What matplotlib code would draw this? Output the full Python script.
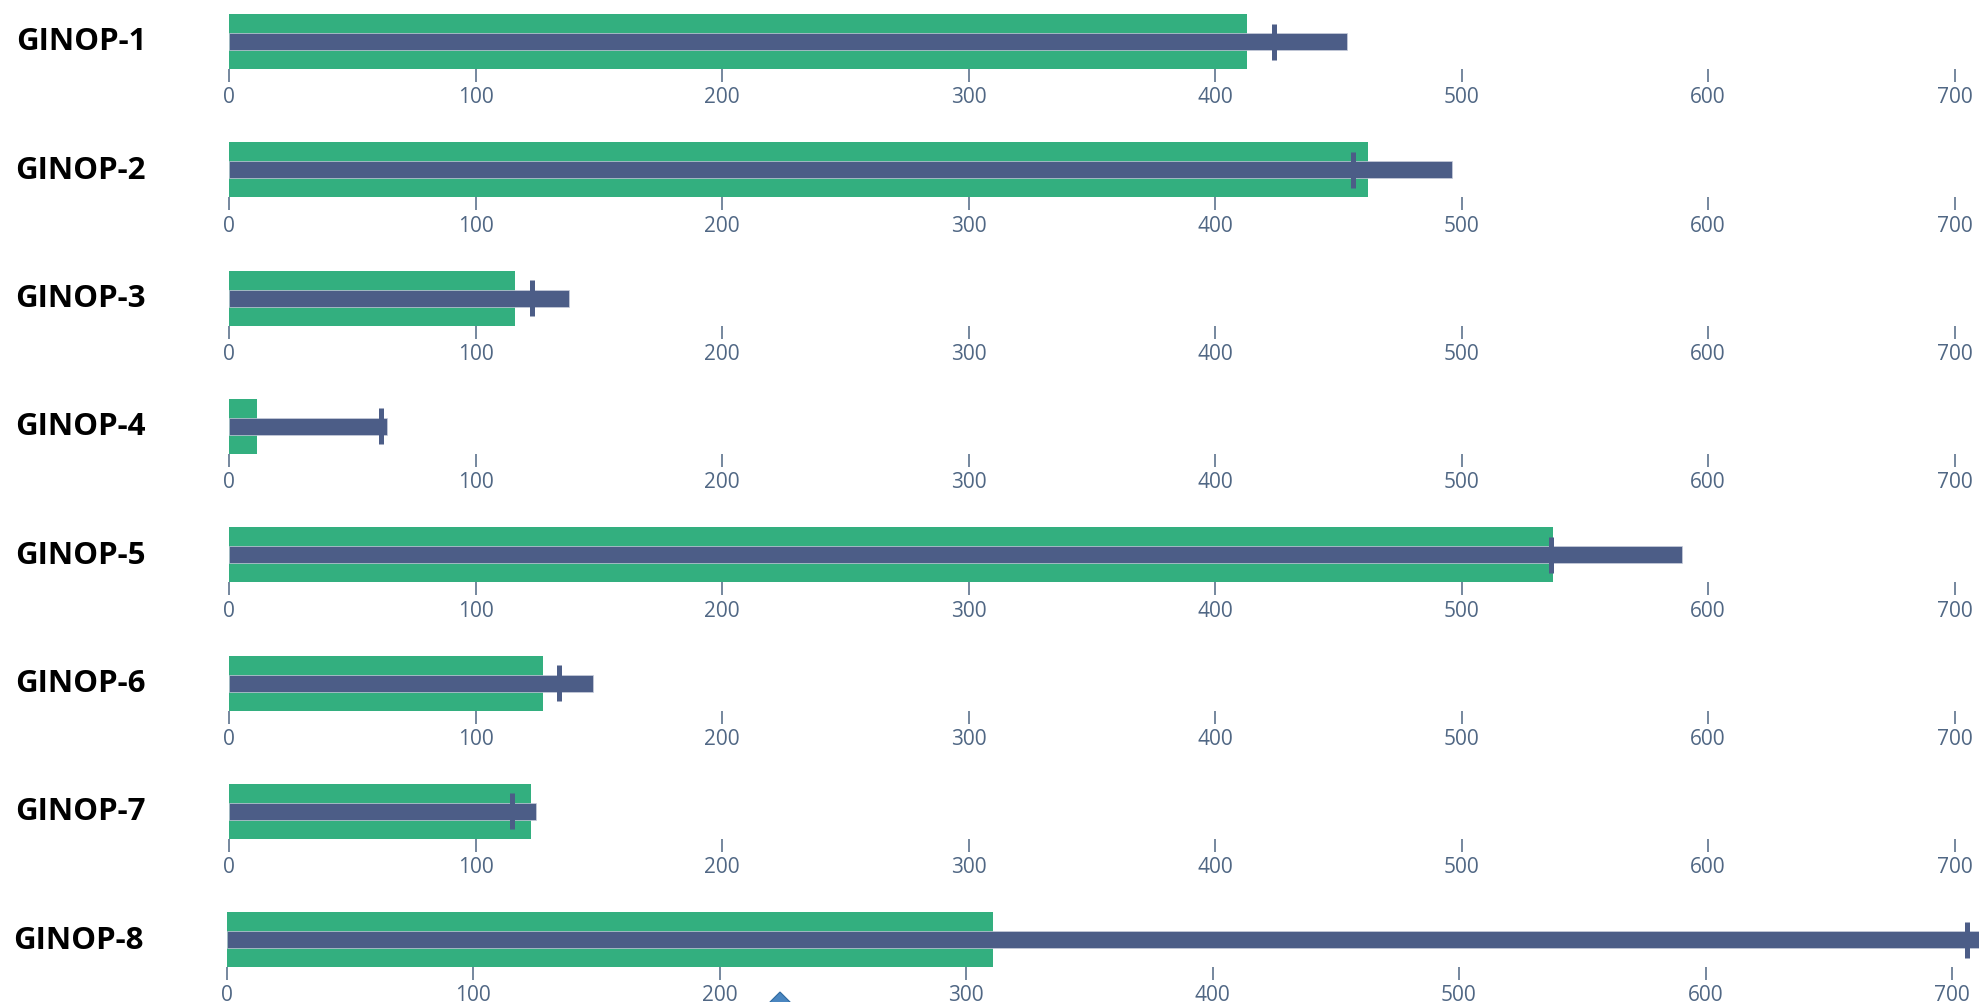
import matplotlib.pyplot as plt
from matplotlib.patches import Polygon

# project rows of the bullet chart
projects = ["GINOP-1", "GINOP-2", "GINOP-3", "GINOP-4",
            "GINOP-5", "GINOP-6", "GINOP-7", "GINOP-8"]
# background range (green), actual value (dark bar), target marker
ranges = [413, 462, 116, 11.5, 537, 127.5, 122.5, 311]
values = [453.5, 496, 138, 64, 589.5, 147.5, 124.5, 740]
targets = [424, 456, 123, 61.5, 536.5, 134, 115, 706]
ticks = [0, 100, 200, 300, 400, 500, 600, 700]

W, H = 1979, 1003
GREEN = "#33AF7F"
BAR = "#4C5D87"
TICK = "#506784"

fig = plt.figure(figsize=(W / 100, H / 100), dpi=100)
plt.rcParams["font.family"] = ["Open Sans", "DejaVu Sans"]

px_per_unit = 2.465
row_h = 55
for i, name in enumerate(projects):
    center = 42.5 + 128.3 * i
    left = 229 if i < 7 else 226.5
    x_max = 720
    ax = fig.add_axes([left / W, 1 - (center + row_h / 2) / H,
                       x_max * px_per_unit / W, row_h / H])
    ax.barh(0.5, ranges[i], height=1.0, color=GREEN, edgecolor="none")
    ax.barh(0.5, values[i], height=17 / row_h, color=BAR,
            edgecolor="#c9cfdd", linewidth=0.5)
    ax.plot([targets[i], targets[i]], [0.5 - 18 / row_h, 0.5 + 18 / row_h],
            color=BAR, linewidth=3.6, solid_capstyle="butt")
    ax.set_xlim(0, x_max)
    ax.set_ylim(0, 1)
    ax.set_xticks(ticks)
    ax.set_xticklabels([str(t) for t in ticks])
    ax.set_yticks([])
    ax.tick_params(axis="x", direction="out", length=9.5, width=1.1,
                   color=TICK, labelcolor=TICK, labelsize=15, pad=3)
    for s in ax.spines.values():
        s.set_visible(False)
    ax.patch.set_alpha(0)
    fig.text((146 if i < 7 else 143.5) / W, 1 - center / H, name,
             ha="right", va="center", fontsize=22.5, fontweight="bold",
             color="black")

# small diamond handle peeking in at the bottom edge
cx, cy, r = 780, 1012, 19
diamond = Polygon([((cx - r) / W, 1 - cy / H), (cx / W, 1 - (cy - r) / H),
                   ((cx + r) / W, 1 - cy / H), (cx / W, 1 - (cy + r) / H)],
                  closed=True, transform=fig.transFigure,
                  facecolor="#4a86c0", edgecolor="#2f6aa0", linewidth=0.8)
fig.patches.append(diamond)

fig.savefig("out.png", dpi=100)
plt.close(fig)
